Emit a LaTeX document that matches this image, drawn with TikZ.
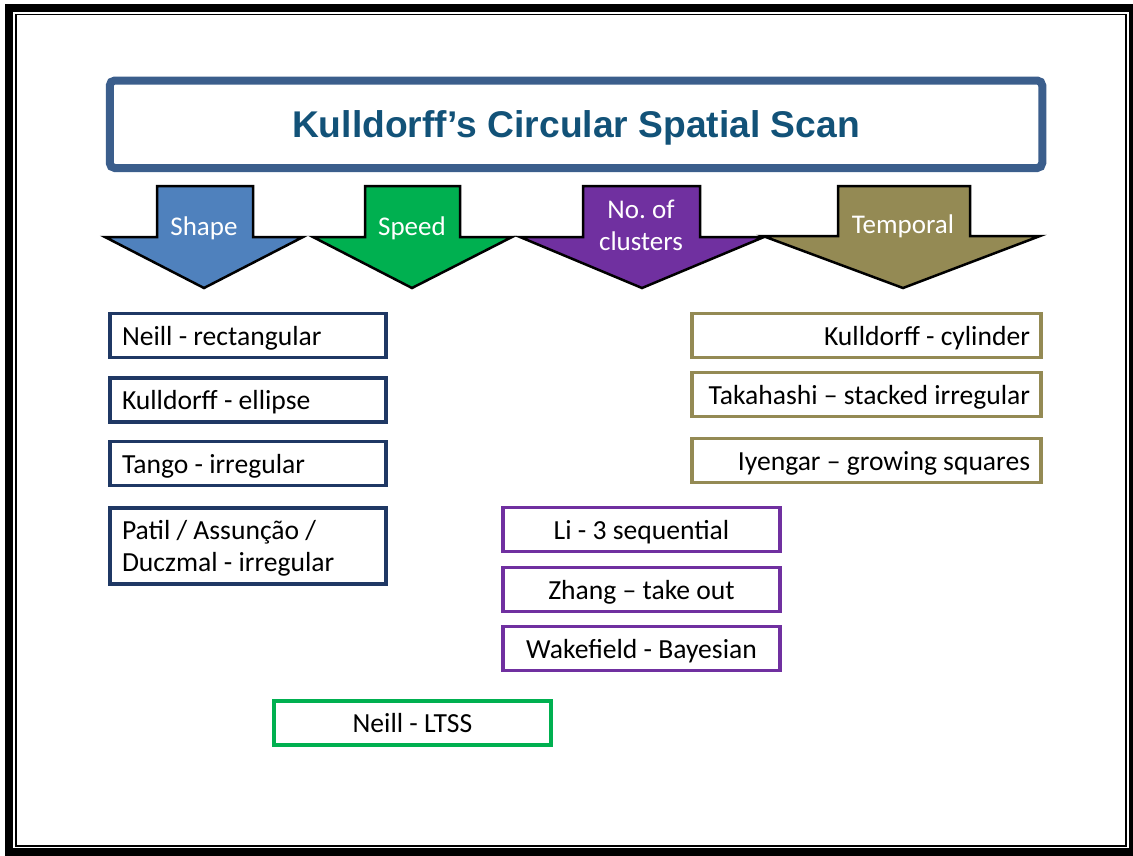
\documentclass[tikz,border=0pt]{standalone}
\usepackage{fontspec}
\setmainfont{Carlito}
\newfontfamily\titlefont{Liberation Sans}
\frenchspacing
\definecolor{frameblue}{RGB}{59,94,140}
\definecolor{titletext}{RGB}{18,82,120}
\definecolor{shapeblue}{RGB}{79,129,189}
\definecolor{shapenavy}{RGB}{31,56,100}
\definecolor{speedgreen}{RGB}{0,176,80}
\definecolor{clusterpurple}{RGB}{112,48,160}
\definecolor{temporalolive}{RGB}{148,138,84}

\begin{document}
\begin{tikzpicture}[x=1pt,y=-1pt,
  title box/.style={draw=frameblue,line width=8pt,rounded corners=5pt,fill=white,
    minimum width=932.5pt,minimum height=87.5pt,text=titletext,
    text height=25.5pt,text depth=0pt,
    font=\titlefont\bfseries\fontsize{37.2}{40}\selectfont},
  arrow body/.style={draw=black,line width=2.5pt,line join=miter},
  arrow label/.style={anchor=base,text=white,align=center,font=\fontsize{27}{32}\selectfont},
  item box/.style={draw,line width=3.8pt,fill=white,minimum height=44pt,inner ysep=2pt,
    text height=24pt,text depth=5pt,font=\fontsize{27.6}{32}\selectfont},
  shape box/.style={item box,draw=shapenavy,minimum width=276pt,text width=252pt,
    inner xsep=12pt,align=flush left},
  speed box/.style={item box,draw=speedgreen,minimum width=277pt},
  cluster box/.style={item box,draw=clusterpurple,minimum width=277pt},
  temporal box/.style={item box,draw=temporalolive,minimum width=349pt,text width=327pt,
    inner xsep=11pt,align=flush right}]

  \useasboundingbox (0,0) rectangle (1133,855);
  % page frame
  \draw[line width=8pt] (9,8) rectangle (1133,852);
  \draw[line width=1.8pt] (16,14.5) rectangle (1126,846);

  \node[title box] (title) at (576,124.25) {Kulldorff’s Circular Spatial Scan};

  % the four block arrows
  \filldraw[arrow body,fill=shapeblue] (157,186) -- (253,186) -- (253,237) -- (303,237)
    -- (204,288) -- (105,237) -- (157,237) -- cycle;
  \filldraw[arrow body,fill=speedgreen] (365,186) -- (460,186) -- (460,237) -- (512,237)
    -- (412,288) -- (313,237) -- (365,237) -- cycle;
  \filldraw[arrow body,fill=clusterpurple] (583,186) -- (700,186) -- (700,237) -- (764,237)
    -- (642,288) -- (520,237) -- (583,237) -- cycle;
  \filldraw[arrow body,fill=temporalolive] (838,186) -- (970,186) -- (970,236) -- (1040,236)
    -- (903,288) -- (763,236) -- (838,236) -- cycle;

  \node[arrow label] (shape) at (204,235) {Shape};
  \node[arrow label] (speed) at (412,235) {Speed};
  \node[arrow label] (clusters) at (641,250) {No. of\\clusters};
  \node[arrow label] (temporal) at (903,233) {Temporal};

  % shape
  \node[shape box] (rect) at (248,335.5) {Neill - rectangular};
  \node[shape box] (ellipse) at (248,400) {Kulldorff - ellipse};
  \node[shape box] (tango) at (248,463.5) {Tango - irregular};
  \node[shape box,minimum height=76pt,text depth=37pt] (patil) at (248,546)
    {Patil / Assunção /\\Duczmal - irregular};

  % speed
  \node[speed box] (ltss) at (412.5,723) {Neill - LTSS};

  % number of clusters
  \node[cluster box] (li) at (641.5,529.5) {Li - 3 sequential};
  \node[cluster box] (zhang) at (641.5,589.5) {Zhang – take out};
  \node[cluster box] (wake) at (641.5,648.5) {Wakefield - Bayesian};

  % temporal
  \node[temporal box] (cyl) at (866.5,335.5) {Kulldorff - cylinder};
  \node[temporal box] (stack) at (866.5,394.5) {Takahashi – stacked irregular};
  \node[temporal box] (grow) at (866.5,460.5) {Iyengar – growing squares};
\end{tikzpicture}
\end{document}
